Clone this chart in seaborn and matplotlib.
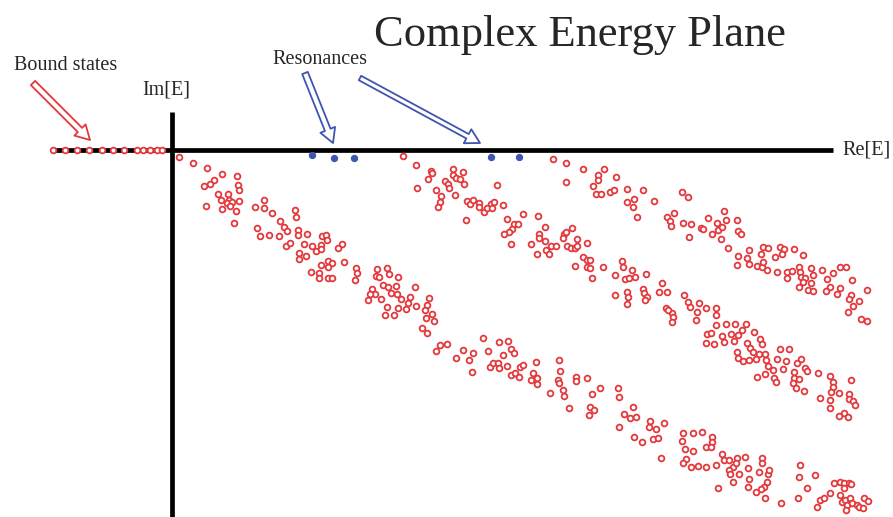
import numpy as np
import pandas as pd
import matplotlib
matplotlib.use("Agg")
import matplotlib.pyplot as plt
import seaborn as sns

# bound states sit on the negative real axis
bound_re = [-119, -107, -95, -83, -70, -59, -48, -35, -29, -22, -15, -10]
bound_im = [0] * len(bound_re)

# resonances just below the real axis
res_re = [140, 162, 182, 319, 347]
res_im = [-5, -8, -8, -7, -7]

# continuum band starting at the origin
band_a_re = [7, 21, 35, 50, 42, 38, 32, 65, 66, 67, 46, 56, 49, 57, 55, 60, 67, 58, 50, 64,
             34, 62, 83, 92, 92, 100, 123, 124, 108, 112, 115, 85, 88, 97, 107, 126, 126, 135,
             114, 118, 132, 127, 127, 134, 140, 149, 144, 149, 150, 154, 155, 170, 166, 172,
             156, 160, 149, 156, 139, 147, 147, 156, 160, 184, 185, 183, 205, 204, 207, 215,
             217, 226, 211, 216, 224, 219, 225, 229, 200, 203, 198, 196, 209, 215, 226, 234,
             213, 222, 236, 243, 238, 244, 257, 255, 253, 260, 262, 254, 250, 255, 268, 275,
             264, 284, 291, 297, 301, 300, 311, 316, 327, 336, 339, 342, 331, 318, 321, 326,
             327, 335, 339, 343, 347, 348, 351, 364, 361, 359, 365, 365, 378, 387, 388, 386,
             387, 391, 392, 397, 404, 404, 415, 420, 428, 418, 422, 417, 446, 447, 447, 452,
             458, 461, 464, 462, 470, 478, 477, 484, 492, 481, 486, 489, 511, 521, 530, 510,
             540, 540, 534, 539, 513, 521, 514, 511, 519, 526, 534, 544, 550, 552, 557, 561,
             565, 564, 557, 558, 567, 573, 576, 561, 577, 576, 587, 590, 590, 596, 597, 595,
             592, 589, 584, 546, 593, 609, 626, 628, 627, 643, 635, 645, 648, 652, 658, 662,
             668, 672, 677, 679, 668, 670, 673, 678, 675, 680, 685, 674, 687, 691, 692, 696, 672]
band_a_im = [-7, -13, -18, -24, -30, -34, -36, -26, -35, -40, -44, -44, -50, -50, -53, -52, -51,
             -56, -59, -61, -56, -73, -57, -50, -58, -63, -60, -67, -71, -77, -81, -78, -86, -85,
             -86, -80, -85, -84, -96, -93, -94, -103, -109, -106, -96, -95, -101, -99, -86, -85,
             -90, -94, -98, -112, -111, -113, -115, -117, -122, -123, -128, -128, -128, -118,
             -123, -130, -119, -126, -127, -118, -124, -127, -135, -137, -136, -143, -144, -149,
             -139, -144, -144, -150, -149, -157, -158, -159, -165, -165, -153, -137, -147, -156,
             -148, -155, -160, -164, -171, -168, -178, -183, -195, -194, -201, -208, -200, -210,
             -203, -222, -188, -201, -192, -191, -199, -203, -205, -217, -213, -213, -218, -216,
             -225, -223, -227, -217, -215, -212, -223, -230, -228, -234, -243, -210, -221, -230,
             -233, -240, -246, -258, -227, -231, -228, -244, -238, -257, -260, -265, -238, -247,
             -277, -264, -268, -257, -267, -287, -292, -271, -277, -279, -273, -289, -288, -308,
             -283, -283, -282, -291, -287, -292, -297, -297, -299, -301, -309, -313, -317, -316,
             -317, -315, -304, -310, -310, -317, -308, -313, -320, -324, -324, -307, -318, -332,
             -329, -337, -322, -308, -313, -324, -320, -332, -337, -339, -342, -338, -348, -353,
             -348, -315, -327, -325, -338, -357, -350, -348, -343, -333, -332, -333, -333, -334,
             -345, -352, -350, -348, -355, -353, -355, -360, -357, -358, -348, -351, -338]

# second band
band_b_re = [231, 244, 259, 260, 256, 245, 264, 269, 268, 266, 273, 276, 277, 281, 281, 284,
             291, 288, 292, 283, 295, 298, 301, 307, 307, 312, 315, 319, 320, 322, 325, 331,
             294, 335, 351, 342, 346, 340, 337, 332, 339, 366, 373, 367, 367, 359, 373, 379,
             384, 374, 377, 365, 392, 394, 400, 391, 405, 395, 399, 403, 405, 415, 411, 415,
             418, 415, 418, 420, 403, 431, 443, 450, 451, 453, 457, 460, 463, 443, 455, 456,
             455, 474, 471, 472, 475, 473, 490, 487, 495, 512, 516, 518, 527, 534, 544, 544,
             525, 524, 494, 500, 501, 500, 496, 544, 554, 563, 574, 570, 535, 539, 550, 559,
             566, 582, 588, 590, 534, 542, 552, 562, 575, 578, 581, 587, 593, 565, 566, 571,
             577, 584, 594, 596, 601, 608, 617, 605, 614, 611, 585, 593, 602, 604, 622, 622,
             627, 621, 624, 625, 629, 633, 635, 632, 646, 648, 658, 661, 661, 659, 667, 658,
             658, 679, 677, 677, 681, 683, 672, 667, 676]
band_b_im = [-6, -15, -21, -23, -29, -38, -40, -46, -52, -57, -31, -34, -38, -19, -25, -28,
             -22, -29, -34, -45, -51, -54, -50, -53, -57, -62, -58, -54, -58, -52, -35, -55,
             -70, -69, -64, -74, -74, -79, -82, -84, -94, -66, -77, -84, -88, -94, -91, -96,
             -96, -100, -104, -104, -84, -82, -78, -88, -89, -96, -98, -98, -96, -93, -107, -110,
             -110, -117, -118, -128, -116, -117, -125, -111, -117, -129, -128, -120, -127, -145,
             -142, -147, -154, -124, -139, -143, -147, -150, -133, -142, -142, -145, -152, -157,
             -153, -158, -158, -165, -162, -170, -158, -163, -167, -172, -160, -175, -174, -174,
             -174, -180, -184, -183, -186, -184, -185, -182, -189, -194, -193, -194, -192, -191,
             -193, -198, -202, -204, -204, -202, -208, -211, -210, -209, -210, -216, -220, -199,
             -199, -209, -211, -219, -227, -224, -228, -232, -222, -228, -229, -233, -238, -213,
             -209, -218, -221, -241, -223, -248, -226, -232, -237, -242, -243, -250, -258, -230,
             -244, -249, -251, -255, -263, -266, -267]

# third band
band_c_re = [381, 394, 394, 411, 426, 426, 432, 421, 424, 429, 444, 438, 442, 455, 455, 462,
             461, 465, 471, 482, 510, 516, 495, 498, 499, 502, 511, 519, 517, 529, 531, 536,
             540, 545, 546, 550, 554, 552, 549, 565, 566, 569, 556, 577, 589, 591, 596, 608,
             612, 610, 603, 622, 631, 566, 565, 575, 577, 585, 590, 591, 595, 605, 615, 620,
             615, 627, 628, 629, 633, 639, 641, 639, 627, 631, 636, 641, 650, 661, 668, 674,
             655, 658, 654, 668, 665, 680, 679, 677, 681, 687, 695, 676, 689, 695]
band_c_im = [-9, -13, -32, -19, -25, -30, -19, -36, -44, -44, -27, -42, -40, -39, -52, -49,
             -57, -67, -40, -51, -42, -47, -67, -71, -76, -63, -73, -74, -87, -78, -79, -68,
             -84, -73, -80, -77, -70, -61, -89, -70, -81, -84, -98, -100, -104, -97, -98, -97,
             -99, -104, -107, -99, -105, -106, -115, -108, -114, -116, -117, -112, -120, -122,
             -122, -121, -128, -117, -122, -127, -128, -118, -125, -133, -137, -132, -140, -141,
             -120, -123, -117, -117, -129, -137, -141, -138, -144, -130, -145, -149, -156, -151,
             -140, -162, -169, -171]

RED = "#e3383c"
BLUE = "#3f55b0"

cont = pd.DataFrame({
    "re": band_a_re + band_b_re + band_c_re,
    "im": band_a_im + band_b_im + band_c_im,
})

sns.set_theme(style="white")
plt.rcParams["font.family"] = ["Liberation Serif", "DejaVu Serif"]

fig, ax = plt.subplots(figsize=(8.93, 5.17), dpi=100)
ax.set_position([0, 0, 1, 1])
ax.set_xlim(-172, 721)
ax.set_ylim(-367, 150)
ax.axis("off")

# axes of the complex plane
ax.plot([-120, 661], [0, 0], color="black", lw=3.4, solid_capstyle="butt", zorder=1)
ax.plot([0, 0], [38, -367], color="black", lw=3.4, solid_capstyle="butt", zorder=1)

sns.scatterplot(data=cont, x="re", y="im", ax=ax, marker="o", s=17,
                facecolor="white", edgecolor=RED, linewidth=1.3, zorder=3, legend=False)
sns.scatterplot(x=bound_re, y=bound_im, ax=ax, marker="o", s=17,
                facecolor="white", edgecolor=RED, linewidth=1.3, zorder=3, legend=False)
sns.scatterplot(x=res_re, y=res_im, ax=ax, marker="o", s=20,
                color=BLUE, edgecolor=BLUE, linewidth=0.8, zorder=3, legend=False)

# hollow pointer arrows
def hollow_arrow(tail, tip, col, tw=0.36):
    ax.annotate("", xy=tip, xytext=tail,
                arrowprops=dict(arrowstyle=f"simple,head_length=0.85,head_width=0.95,tail_width={tw}",
                                fc="white", ec=col, lw=1.3, shrinkA=0, shrinkB=0,
                                mutation_scale=12), zorder=4)

hollow_arrow((-139, 67), (-82, 10), RED)
hollow_arrow((133, 77), (161, 7), BLUE)
hollow_arrow((188, 72), (308, 7), BLUE, tw=0.3)

ax.text(408, 115, "Complex Energy Plane", fontsize=32, ha="center", va="center")
ax.text(-106, 85, "Bound states", fontsize=14.5, ha="center", va="center")
ax.text(148, 90, "Resonances", fontsize=14.5, ha="center", va="center")
ax.text(-6, 60, "Im[E]", fontsize=14.5, ha="center", va="center")
ax.text(670, 0, "Re[E]", fontsize=14.5, ha="left", va="center")

fig.savefig("out.png", dpi=100)
